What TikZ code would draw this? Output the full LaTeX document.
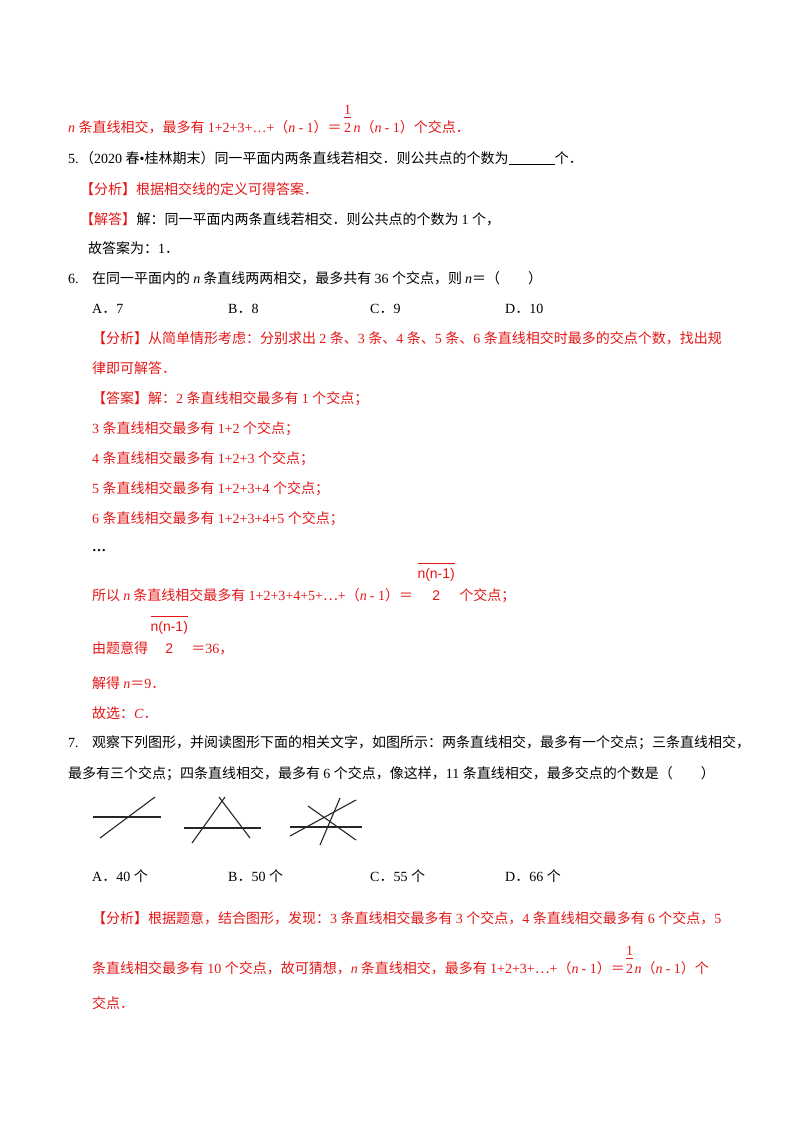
\documentclass[tikz,border=0pt]{standalone}
\usepackage{fontspec}
\setmainfont{Liberation Serif}
\setsansfont{Liberation Sans}
\newfontfamily\cjkf{Noto Sans CJK SC}
\newXeTeXintercharclass\cjkclass
\newcount\cc
\cc="4E00 \loop\XeTeXcharclass\cc=\cjkclass\advance\cc 1 \ifnum\cc<"A000 \repeat
\cc="3000 \loop\XeTeXcharclass\cc=\cjkclass\advance\cc 1 \ifnum\cc<"3040 \repeat
\cc="FF00 \loop\XeTeXcharclass\cc=\cjkclass\advance\cc 1 \ifnum\cc<"FFF0 \repeat
\XeTeXcharclass"22EF=\cjkclass
\XeTeXinterchartoks 0 \cjkclass={\cjkf}
\XeTeXinterchartoks 4095 \cjkclass={\cjkf}
\XeTeXinterchartoks \cjkclass 0={\rmfamily}
\XeTeXinterchartoks 4095 0={\rmfamily}
\XeTeXinterchartokenstate=1
\definecolor{ans}{RGB}{228,22,22}
\tikzset{t/.style={anchor=base west,inner sep=0pt,font=\fontsize{14}{17}\selectfont},
 r/.style={t,text=ans},
 fig/.style={line width=1.1pt,black!85}}
\newcommand\hf{\begin{tabular}[b]{@{}c@{}}1\\[-3pt]\hline\\[-14pt]2\end{tabular}}
\newcommand\nf{\XeTeXinterchartokenstate=0 \sffamily\renewcommand\arraystretch{1.25}\begin{tabular}[b]{@{}c@{}}\hline n(n-1)\\ 2\end{tabular}}
\begin{document}
\begin{tikzpicture}[x=1pt,y=-1pt]
\useasboundingbox (0,0) rectangle (800,1132);
\node[r] (a1) at (68,132) {\textit{n} 条直线相交，最多有 1+2+3+…+（\textit{n} - 1）＝};
\node[r] (a2) at ([xshift=2pt]a1.base east) {\hf};
\node[r] (a3) at ([xshift=2pt]a2.base east) {\textit{n}（\textit{n} - 1）个交点．};
\node[t] (q5) at (68,163) {5.};
\node[t] (q5t) at (80,163) {（2020 春•桂林期末）同一平面内两条直线若相交．则公共点的个数为\underline{\hspace{3.3em}}个．};
\node[r] (b1) at (80,194) {【分析】根据相交线的定义可得答案．};
\node[r] (b2) at (80,224) {【解答】};
\node[t] (b3) at (b2.base east) {解：同一平面内两条直线若相交．则公共点的个数为 1 个，};
\node[t] (b4) at (88,253) {故答案为：1．};
\node[t] (q6) at (68,283) {6.};
\node[t] (q6t) at (92,283) {在同一平面内的 \textit{n} 条直线两两相交，最多共有 36 个交点，则 \textit{n}＝（　　）};
\node[t] (o1) at (92,313) {A．7};
\node[t] (o2) at (228,313) {B．8};
\node[t] (o3) at (370,313) {C．9};
\node[t] (o4) at (505,313) {D．10};
\node[r] (c1) at (92,343) {【分析】从简单情形考虑：分别求出 2 条、3 条、4 条、5 条、6 条直线相交时最多的交点个数，找出规};
\node[r] (c2) at (92,373) {律即可解答．};
\node[r] (c3) at (92,403) {【答案】解：2 条直线相交最多有 1 个交点；};
\node[r] (c4) at (92,433) {3 条直线相交最多有 1+2 个交点；};
\node[r] (c5) at (92,463) {4 条直线相交最多有 1+2+3 个交点；};
\node[r] (c6) at (92,493) {5 条直线相交最多有 1+2+3+4 个交点；};
\node[r] (c7) at (92,523) {6 条直线相交最多有 1+2+3+4+5 个交点；};
\node[t] (c8) at (92,551) {\textbf{…}};
\node[r] (c9) at (92,600) {所以 \textit{n} 条直线相交最多有 1+2+3+4+5+⋯+（\textit{n} - 1）＝};
\node[r] (c10) at ([xshift=4pt]c9.base east) {\nf};
\node[r] (c11) at ([xshift=4pt]c10.base east) {个交点；};
\node[r] (d1) at (92,653) {由题意得};
\node[r] (d2) at ([xshift=2pt]d1.base east) {\nf};
\node[r] (d3) at ([xshift=3pt]d2.base east) {＝36，};
\node[r] (d4) at (92,688) {解得 \textit{n}＝9．};
\node[r] (d5) at (92,718) {故选：\textit{C}．};
\node[t] (q7) at (68,747) {7.};
\node[t] (q7t) at (92,747) {观察下列图形，并阅读图形下面的相关文字，如图所示：两条直线相交，最多有一个交点；三条直线相交，};
\node[t] (q7u) at (68,778) {最多有三个交点；四条直线相交，最多有 6 个交点，像这样，11 条直线相交，最多交点的个数是（　　）};
\draw[fig] (93,817) -- (161,817);
\draw[fig] (100,838) -- (155,797);
\draw[fig] (184,828) -- (261,828);
\draw[fig] (192,843) -- (225,797);
\draw[fig] (250,838) -- (219,797);
\draw[fig] (290,827) -- (362,827);
\draw[fig] (290,836) -- (356,800);
\draw[fig] (308,806) -- (356,840);
\draw[fig] (320,845) -- (340,798);
\node[t] (p1) at (92,881) {A．40 个};
\node[t] (p2) at (228,881) {B．50 个};
\node[t] (p3) at (370,881) {C．55 个};
\node[t] (p4) at (505,881) {D．66 个};
\node[r] (e1) at (92,923) {【分析】根据题意，结合图形，发现：3 条直线相交最多有 3 个交点，4 条直线相交最多有 6 个交点，5};
\node[r] (e2) at (92,973) {条直线相交最多有 10 个交点，故可猜想，\textit{n} 条直线相交，最多有 1+2+3+⋯+（\textit{n} - 1）＝};
\node[r] (e3) at ([xshift=1pt]e2.base east) {\hf};
\node[r] (e4) at ([xshift=1pt]e3.base east) {\textit{n}（\textit{n} - 1）个};
\node[r] (e5) at (92,1008) {交点．};
\end{tikzpicture}
\end{document}
